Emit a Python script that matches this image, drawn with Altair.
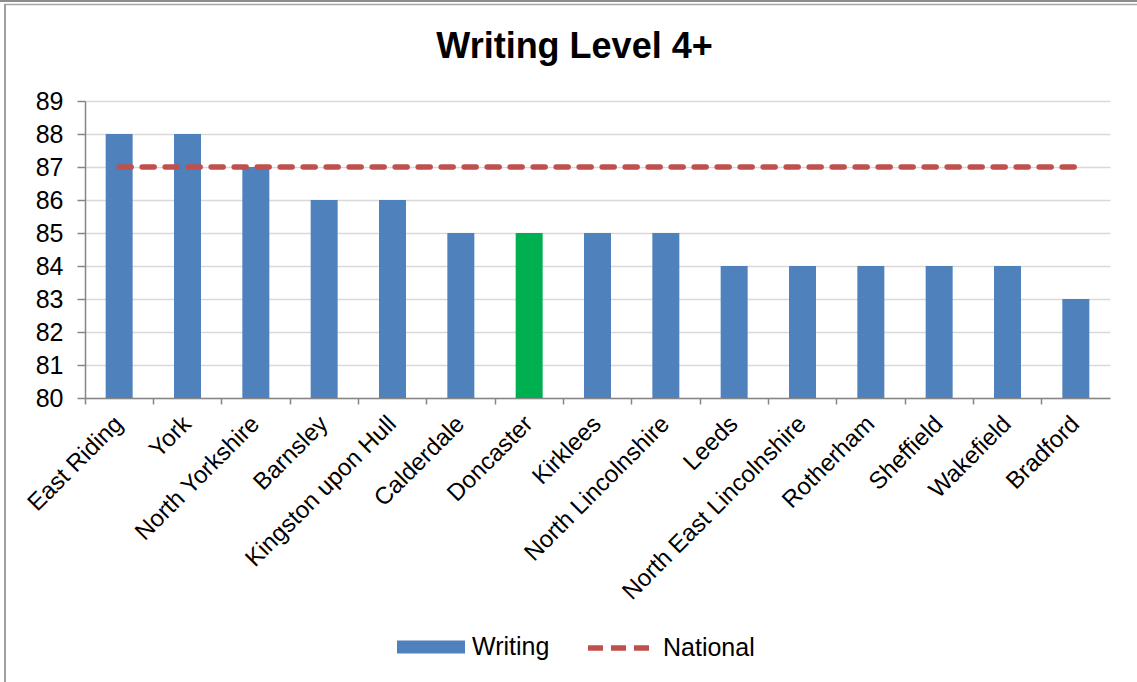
import altair as alt
import pandas as pd

# Local authority results, Writing Level 4+ (%)
regions = [
    "East Riding", "York", "North Yorkshire", "Barnsley", "Kingston upon Hull",
    "Calderdale", "Doncaster", "Kirklees", "North Lincolnshire", "Leeds",
    "North East Lincolnshire", "Rotherham", "Sheffield", "Wakefield", "Bradford",
]
writing = [88, 88, 87, 86, 86, 85, 85, 85, 85, 84, 84, 84, 84, 84, 83]
national = [87, 87, 87, 87, 87, 87, 87, 87, 87, 87, 87, 87, 87, 87, 87]
highlight = "Doncaster"
y_ticks = [80, 81, 82, 83, 84, 85, 86, 87, 88, 89]

BLUE = "#4F81BD"
GREEN = "#00B050"
RED = "#C0504D"
FONT = "Liberation Sans"

df = pd.DataFrame({
    "region": regions,
    "writing": writing,
    "national": national,
    "bar_group": [highlight if r == highlight else "Writing" for r in regions],
    "line_group": ["National"] * len(regions),
})

x_scale = alt.Scale(paddingInner=0, paddingOuter=0)
y_scale = alt.Scale(domain=[80, 89], nice=False, zero=False)

x_axis = alt.Axis(
    bandPosition=0,
    labelAngle=-45,
    labelAlign="right",
    labelBaseline="middle",
    labelFontSize=24,
    labelFont=FONT,
    labelColor="#000000",
    labelPadding=16,
    labelLimit=0,
    labelOverlap=False,
    tickSize=6,
    tickColor="#868686",
    tickWidth=1.5,
    domainColor="#868686",
    domainWidth=1.5,
    grid=False,
)

y_axis = alt.Axis(
    values=y_ticks,
    labelFontSize=25,
    labelFont=FONT,
    labelColor="#000000",
    labelPadding=14,
    labelOverlap=False,
    tickSize=8,
    tickColor="#868686",
    tickWidth=1.5,
    domainColor="#868686",
    domainWidth=1.5,
    gridColor="#D9D9D9",
    gridWidth=1.5,
)

bars = alt.Chart(df).mark_bar(width=alt.RelativeBandSize(0.395)).encode(
    x=alt.X("region:N", sort=regions, title=None, scale=x_scale, axis=x_axis),
    y=alt.Y("writing:Q", scale=y_scale, title=None, axis=y_axis),
    y2=alt.datum(80),
    fill=alt.Fill(
        "bar_group:N",
        scale=alt.Scale(domain=["Writing", highlight], range=[BLUE, GREEN]),
        legend=alt.Legend(
            values=["Writing"],
            title=None,
            orient="none",
            legendX=312,
            legendY=512,
            padding=0,
            symbolType="M-1,-0.19H1V0.19H-1Z",
            symbolSize=4624,
            symbolStrokeWidth=0,
            labelFontSize=25,
            labelFont=FONT,
            labelColor="#000000",
            labelOffset=7,
        ),
    ),
)

line = alt.Chart(df).mark_line(
    strokeWidth=5.5, strokeDash=[12, 11], strokeCap="round"
).encode(
    x=alt.X("region:N", sort=regions, title=None, scale=x_scale, axis=x_axis),
    y=alt.Y("national:Q", scale=y_scale, title=None, axis=y_axis),
    stroke=alt.Stroke(
        "line_group:N",
        scale=alt.Scale(domain=["National"], range=[RED]),
        legend=alt.Legend(
            title=None,
            orient="none",
            legendX=500,
            legendY=513,
            padding=0,
            symbolType="stroke",
            symbolSize=3844,
            symbolStrokeWidth=5.5,
            symbolDash=[15, 8],
            labelFontSize=25,
            labelFont=FONT,
            labelColor="#000000",
            labelOffset=10,
        ),
    ),
)

# Frame lines around the chart area
frame = alt.Data(values=[{}])
top_outer = alt.Chart(frame).mark_rule(color="#8C8C8C", strokeWidth=2).encode(
    x=alt.value(-85), x2=alt.value(1052), y=alt.value(-100)
)
top_inner = alt.Chart(frame).mark_rule(color="#A6A6A6", strokeWidth=1.5).encode(
    x=alt.value(-80), x2=alt.value(1052), y=alt.value(-96.5)
)
left_edge = alt.Chart(frame).mark_rule(color="#A0A0A0", strokeWidth=2).encode(
    x=alt.value(-80), y=alt.value(-97), y2=alt.value(581)
)

chart = (
    alt.layer(bars, line, top_outer, top_inner, left_edge)
    .resolve_legend(fill="independent", stroke="independent")
    .properties(
        width=1025,
        height=297,
        autosize=alt.AutoSizeParams(type="none"),
        padding={"left": 85, "top": 101, "right": 27, "bottom": 284},
        view=alt.ViewBackground(stroke="transparent", strokeWidth=0),
        title=alt.Title(
            "Writing Level 4+",
            font=FONT,
            fontSize=36,
            fontWeight="bold",
            color="#000000",
            anchor="middle",
            frame="group",
            baseline="alphabetic",
            dx=-23,
            offset=-94,
        ),
    )
    .configure_view(stroke="transparent", strokeWidth=0)
    .configure(background="#FFFFFF")
)

chart.save("out.html", embed_options={"renderer": "svg", "actions": False})
